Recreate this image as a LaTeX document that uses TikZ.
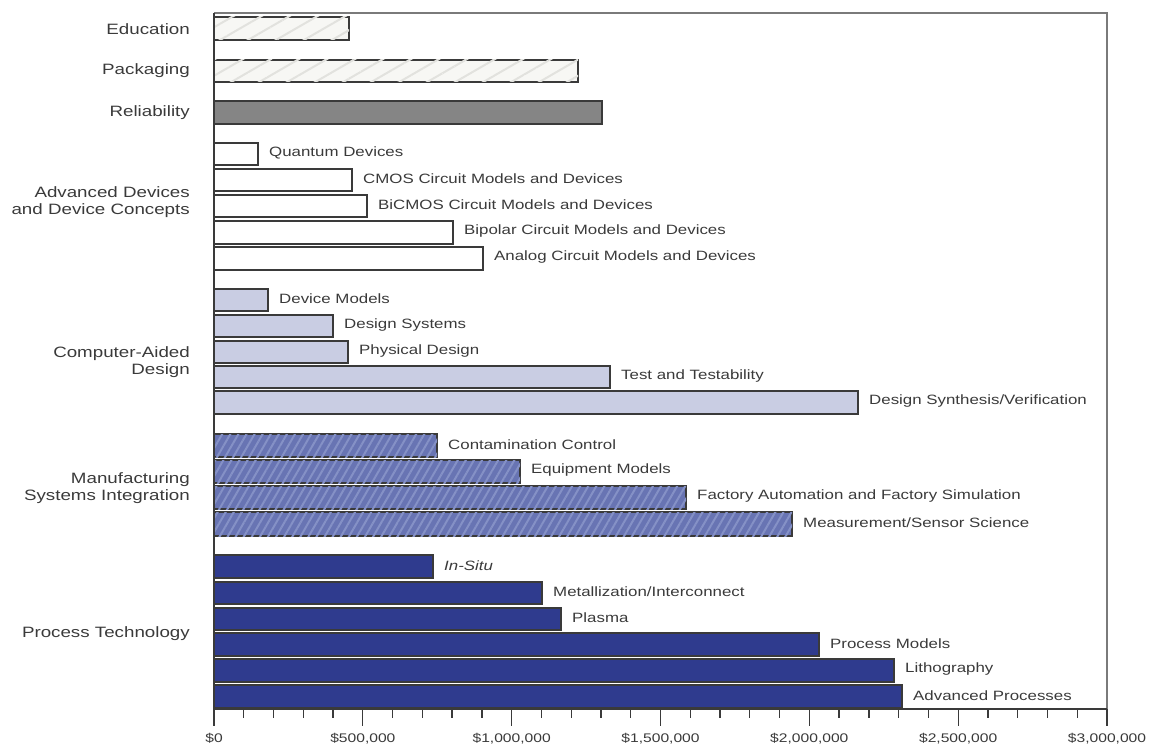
\documentclass[tikz,border=0pt]{standalone}
\usepackage{fontspec}
\setmainfont{Liberation Sans}[FakeStretch=1.25]
\usetikzlibrary{patterns.meta}
\definecolor{edu}{HTML}{F7F7F4}
\definecolor{edustripe}{HTML}{E2E2DE}
\definecolor{rel}{HTML}{858585}
\definecolor{cad}{HTML}{C9CDE3}
\definecolor{msi}{HTML}{6874B3}
\definecolor{msistripe}{HTML}{8591C6}
\definecolor{proc}{HTML}{2F3B8E}
\definecolor{ink}{HTML}{3A3A3A}
\definecolor{frame}{HTML}{7A7A7A}
\tikzset{
  barbase/.style={draw=ink, line width=1.3pt},
  edubar/.style={barbase, fill=edu, postaction={pattern={Lines[angle=30,distance=14pt,line width=2pt]}, pattern color=edustripe}},
  relbar/.style={barbase, fill=rel},
  advbar/.style={barbase, fill=white},
  cadbar/.style={barbase, fill=cad},
  msibar/.style={barbase, fill=msi, postaction={pattern={Lines[angle=60,distance=7pt,line width=2pt]}, pattern color=msistripe}},
  procbar/.style={barbase, fill=proc},
  lbl/.style={font=\fontsize{13.5}{15}\selectfont, text=ink, inner sep=0pt},
  grp/.style={lbl, font=\fontsize{15}{17}\selectfont, anchor=east, align=right},
  axislbl/.style={lbl, font=\fontsize{12.5}{14}\selectfont, anchor=north}
}
\newcommand\drawbar[6]{%
  \path[#1] (214,#3) rectangle (#5,#4);
  \node[lbl, anchor=west] (#2) at ({#5+11},{(#3+#4)/2-1}) {#6};
}
\begin{document}
\begin{tikzpicture}[x=1pt,y=-1pt]
\useasboundingbox (0,0) rectangle (1162,749);
% frame
\draw[frame, line width=1.6pt] (214,13) -- (1107,13) -- (1107,709);
% group labels
\node[grp] (gEdu) at (190,29) {Education};
\node[grp] (gPack) at (190,71) {Packaging};
\node[grp] (gRel) at (190,113) {Reliability};
\node[grp] (gAdv) at (190,202) {Advanced Devices\\and Device Concepts};
\node[grp] (gCad) at (190,362) {Computer-Aided\\Design};
\node[grp] (gMsi) at (190,488) {Manufacturing\\Systems Integration};
\node[grp] (gProc) at (190,634) {Process Technology};
% top three
\path[edubar] (214,17) rectangle (349,40);
\path[edubar] (214,60) rectangle (578,82);
\path[relbar] (214,101) rectangle (602,124);
% advanced devices
\drawbar{advbar}{qd}{143}{165}{258}{Quantum Devices}
\drawbar{advbar}{cmos}{169}{191}{352}{CMOS Circuit Models and Devices}
\drawbar{advbar}{bicmos}{195}{217}{367}{BiCMOS Circuit Models and Devices}
\drawbar{advbar}{bip}{221}{244}{453}{Bipolar Circuit Models and Devices}
\drawbar{advbar}{ana}{247}{270}{483}{Analog Circuit Models and Devices}
% CAD
\drawbar{cadbar}{dm}{289}{311}{268}{Device Models}
\drawbar{cadbar}{ds}{315}{337}{333}{Design Systems}
\drawbar{cadbar}{pd}{341}{363}{348}{Physical Design}
\drawbar{cadbar}{tt}{366}{388}{610}{Test and Testability}
\drawbar{cadbar}{dsv}{391}{414}{858}{Design Synthesis/Verification}
% MSI
\drawbar{msibar}{cc}{434}{457}{437}{Contamination Control}
\drawbar{msibar}{em}{460}{483}{520}{Equipment Models}
\drawbar{msibar}{fa}{486}{509}{686}{Factory Automation and Factory Simulation}
\drawbar{msibar}{ms}{512}{536}{792}{Measurement/Sensor Science}
% Process technology
\drawbar{procbar}{is}{555}{578}{433}{\itshape In-Situ}
\drawbar{procbar}{mi}{582}{604}{542}{Metallization/Interconnect}
\drawbar{procbar}{pl}{608}{630}{561}{Plasma}
\drawbar{procbar}{pm}{633}{656}{819}{Process Models}
\drawbar{procbar}{li}{659}{682}{894}{Lithography}
\drawbar{procbar}{ap}{685}{708}{902}{Advanced Processes}
% axes
\draw[ink, line width=1.6pt] (214,13) -- (214,709) -- (1107,709);
\foreach \i in {0,...,30}{
  \draw[ink, line width=1.3pt] ({214+\i*29.7667},709) -- ++(0,9);
}
\foreach \i/\t in {0/{\$0},5/{\$500,000},10/{\$1,000,000},15/{\$1,500,000},20/{\$2,000,000},25/{\$2,500,000},30/{\$3,000,000}}{
  \draw[ink, line width=1.3pt] ({214+\i*29.7667},709) -- ++(0,17);
  \node[axislbl] (ax\i) at ({214+\i*29.7667},733) {\t};
}
\end{tikzpicture}
\end{document}
